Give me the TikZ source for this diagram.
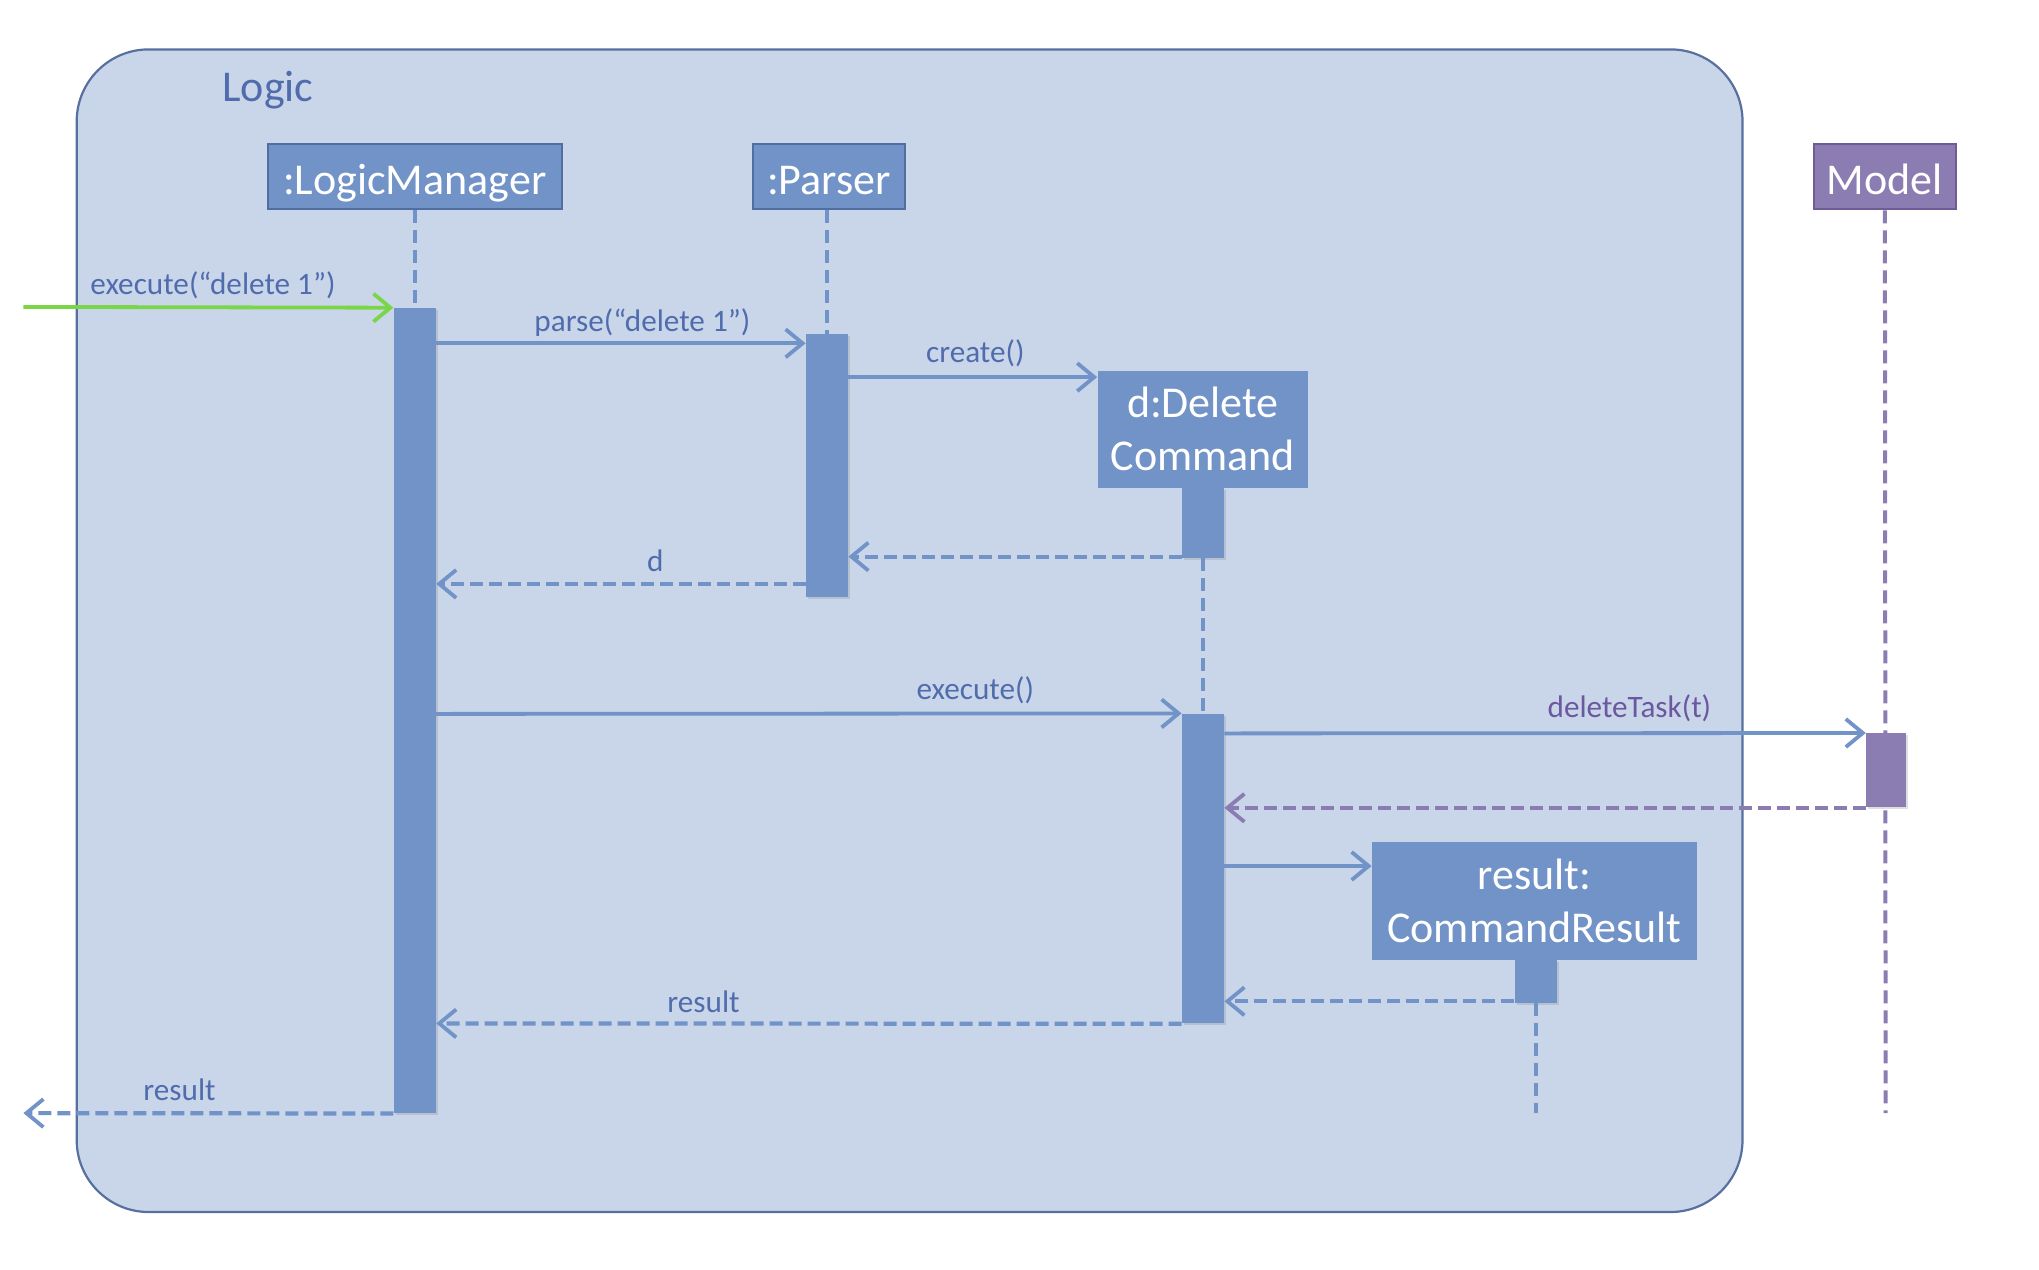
\documentclass[tikz,border=0pt]{standalone}
\usepackage{fontspec}
\setmainfont{Carlito}
\usetikzlibrary{arrows.meta,shadows}
\definecolor{frameFill}{RGB}{201,214,234}
\definecolor{frameLine}{RGB}{88,112,160}
\definecolor{boxFill}{RGB}{113,147,199}
\definecolor{boxLine}{RGB}{80,110,162}
\definecolor{lblText}{RGB}{80,108,172}
\definecolor{modelFill}{RGB}{139,124,178}
\definecolor{modelLine}{RGB}{110,92,150}
\definecolor{modelText}{RGB}{108,88,158}
\definecolor{callGreen}{RGB}{122,214,72}
\begin{document}
\begin{tikzpicture}[x=0.5pt,y=-0.5pt,
  tip/.style={-{Straight Barb[length=8.5pt,width=14pt,line width=1.9pt]}},
  msg/.style={draw=boxFill, line width=1.9pt, tip},
  ret/.style={msg, line width=2.1pt, dash pattern=on 6.5pt off 3pt},
  life/.style={draw=boxFill, line width=2pt, dash pattern=on 6.5pt off 3.5pt},
  objbox/.style={rectangle, fill=boxFill, text=white, inner sep=0pt,
    font=\fontsize{22}{26.5}\selectfont, align=center},
  single/.style={text height=22pt, text depth=4pt},
  double/.style={text depth=-7pt},
  bar/.style={rectangle, fill=boxFill, inner sep=0pt, minimum width=21pt,
    drop shadow={opacity=0.25, shadow xshift=1pt, shadow yshift=-1pt}},
  lbl/.style={text=lblText, inner sep=0pt, font=\fontsize{15.6}{18}\selectfont},
]
\useasboundingbox (0,0) rectangle (2039,1269);

% Logic component frame
\draw[fill=frameFill, draw=frameLine, line width=1.1pt, rounded corners=36pt]
  (76.7,49.4) rectangle (1742.5,1212);
\node[text=lblText, inner sep=0pt, font=\fontsize{22}{26}\selectfont] (logic) at (267.9,89.8) {Logic};

% participants
\node[objbox, single, draw=boxLine, line width=1pt, minimum width=147pt, minimum height=32.5pt]
  (lm) at (414.8,176.8) {:LogicManager};
\node[objbox, single, draw=boxLine, line width=1pt, minimum width=76pt, minimum height=32.5pt]
  (parser) at (829,176.8) {:Parser};
\node[objbox, single, fill=modelFill, draw=modelLine, line width=1pt, minimum width=71pt, minimum height=32.5pt]
  (model) at (1884.9,176.8) {Model};
\node[objbox, double, minimum width=105.3pt, minimum height=58.5pt]
  (dc) at (1202.9,429.1) {d:Delete\\Command};
\node[objbox, double, minimum width=162.5pt, minimum height=59pt]
  (cr) at (1534.5,900.5) {result:\\CommandResult};

% lifeline end points and message levels
\coordinate (modelEnd) at (1885.6,1113.1);
\coordinate (crEnd) at (1535.8,1113.1);
\coordinate (in) at (23.4,306.9);
\coordinate (out) at (23.4,1113.1);
\coordinate (yParse) at (0,343.3);
\coordinate (yCreate) at (0,377.1);
\coordinate (yDcRet) at (0,556.6);
\coordinate (yD) at (0,583.9);
\coordinate (yExec) at (0,713.9);
\coordinate (yDel) at (0,733.4);
\coordinate (yNew) at (0,866);
\coordinate (yCrRet) at (0,1001.3);
\coordinate (yRes) at (0,1023.4);

% activation bars
\node[bar, minimum height=402.5pt] (lmbar) at (414.8,710.6) {};
\node[bar, minimum height=131.4pt] (pbar) at (827,465.5) {};
\node[bar, minimum height=35.2pt] (dcbar0) at (1203,522.8) {};
\node[bar, minimum height=154.8pt] (dcbar) at (1203,868.6) {};
\node[bar, minimum height=21.4pt] (crbar) at (1535.8,981.2) {};

% lifelines
\draw[life] (lm.south) -- (lmbar.north);
\draw[life] (parser.south -| pbar.north) -- (pbar.north);
\draw[life] (dcbar0.south) -- (dcbar.north);
\draw[life] (crbar.south) -- (crEnd);
\draw[life, draw=modelFill] (model.south) -- (modelEnd);
\node[bar, fill=modelFill, minimum width=20pt, minimum height=37pt] (mbar) at (1886.2,770.4) {};

% messages
\draw[msg, draw=callGreen] (in) -- (lmbar.north west);
\draw[msg] (lmbar.east |- yParse) -- (pbar.west |- yParse);
\draw[msg] (pbar.east |- yCreate) -- (dc.west |- yCreate);
\draw[ret] (dcbar0.west |- yDcRet) -- (pbar.east |- yDcRet);
\draw[ret] (pbar.west |- yD) -- (lmbar.east |- yD);
\draw[msg] (lmbar.east |- yExec) -- (dcbar.north west);
\draw[msg] (dcbar.east |- yDel) -- (mbar.north west);
\draw[ret, draw=modelFill] (mbar.south west) -- (dcbar.east |- mbar.south);
\draw[msg] (dcbar.east |- yNew) -- (cr.west |- yNew);
\draw[ret] (crbar.west |- yCrRet) -- (dcbar.east |- yCrRet);
\draw[ret] (dcbar.south west) -- (lmbar.east |- yRes);
\draw[ret] (lmbar.south west) -- (out);

% message labels
\node[lbl] (lExec0) at (213,284.8) {execute(“delete 1”)};
\node[lbl] (lParse) at (642.4,322.5) {parse(“delete 1”)};
\node[lbl] (lCreate) at (975.3,353.7) {create()};
\node[lbl] (lD) at (655.4,560.5) {d};
\node[lbl] (lExec) at (975.3,690.5) {execute()};
\node[lbl, text=modelText] (lDel) at (1629.4,708.7) {deleteTask(t)};
\node[lbl] (lRes) at (703.5,1001.3) {result};
\node[lbl] (lRes0) at (179.5,1089.7) {result};
\end{tikzpicture}
\end{document}
